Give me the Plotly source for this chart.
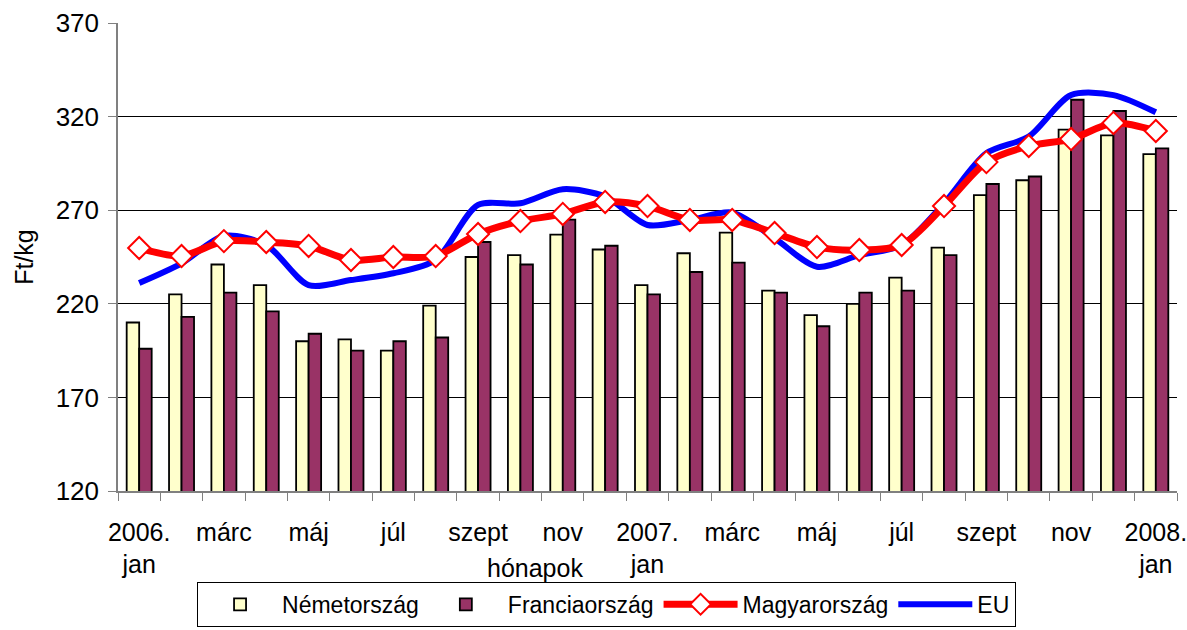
import plotly.graph_objects as go

months = ["2006. jan", "feb", "márc", "ápr", "máj", "jún", "júl", "aug", "szept", "okt", "nov", "dec",
          "2007. jan", "feb", "márc", "ápr", "máj", "jún", "júl", "aug", "szept", "okt", "nov", "dec",
          "2008. jan"]
tick_labels = ["2006.<br>jan", "márc", "máj", "júl", "szept", "nov", "2007.<br>jan",
               "márc", "máj", "júl", "szept", "nov", "2008.<br>jan"]

nemetorszag = [210, 225, 241, 230, 200, 201, 195, 219, 245, 246, 257, 249,
               230, 247, 258, 227, 214, 220, 234, 250, 278, 286, 313, 310, 300]
franciaorszag = [196, 213, 226, 216, 204, 195, 200, 202, 253, 241, 265, 251,
                 225, 237, 242, 226, 208, 226, 227, 246, 284, 288, 329, 323, 303]
magyarorszag = [249.8, 245.5, 253.5, 253, 250.9, 243.4, 245, 245.5, 257.3, 264.2, 268, 274.4,
                272.2, 264.8, 264.8, 257.8, 250.3, 248.7, 251.4, 272.2, 295.7, 304.3, 308, 316.6, 312.3]
eu = [231.1, 241.6, 256.2, 251.4, 230, 232.7, 236.3, 243.4, 272.8, 273.7, 281.2, 277.3,
      262.1, 264.8, 268.7, 255, 239.8, 246, 251.4, 273.7, 300.4, 309.3, 331.5, 331.5, 322.3]

x = list(range(len(months)))
FONT = "Liberation Sans, Arial, sans-serif"

fig = go.Figure()
fig.add_trace(go.Bar(x=x, y=nemetorszag, name="Németország", legendrank=1,
                     marker=dict(color="#FFFFCC", line=dict(color="black", width=1.8)),
                     customdata=months, hovertemplate="%{customdata}: %{y}<extra></extra>"))
fig.add_trace(go.Bar(x=x, y=franciaorszag, name="Franciaország", legendrank=2,
                     marker=dict(color="#993366", line=dict(color="black", width=1.8)),
                     customdata=months, hovertemplate="%{customdata}: %{y}<extra></extra>"))
fig.add_trace(go.Scatter(x=x, y=eu, name="EU", mode="lines", legendrank=4,
                         line=dict(color="#0000FF", width=6, shape="spline", smoothing=0.8)))
fig.add_trace(go.Scatter(x=x, y=magyarorszag, name="Magyarország", mode="lines+markers", legendrank=3,
                         line=dict(color="#FF0000", width=7, shape="spline", smoothing=0.8),
                         marker=dict(symbol="diamond", size=17, color="white",
                                     line=dict(color="#FF0000", width=2))))

plot_l, plot_r, plot_t, plot_b = 118, 10, 23, 139
plot_w = 1187 - plot_l - plot_r
plot_h = 630 - plot_t - plot_b

fig.update_layout(
    width=1187, height=630,
    margin=dict(l=plot_l, r=plot_r, t=plot_t, b=plot_b, autoexpand=False),
    paper_bgcolor="white", plot_bgcolor="white",
    font=dict(family=FONT, size=25, color="black"),
    barmode="group", bargap=0.41, bargroupgap=0,
    showlegend=True,
    legend=dict(orientation="h", xref="container", yref="container",
                x=0.511, xanchor="center", y=0.005, yanchor="bottom",
                bordercolor="black", borderwidth=1, bgcolor="white",
                font=dict(size=23, family=FONT), itemwidth=74, tracegroupgap=0),
    xaxis=dict(range=[-0.5, 24.5], tickmode="array", tickvals=list(range(0, 25, 2)),
               ticktext=tick_labels, ticks="", showgrid=False, zeroline=False,
               showline=True, linecolor="#808080", linewidth=1.5, automargin=False,
               tickfont=dict(size=25), ticklabelstandoff=18, ticklabeloverflow="allow",
               minor=dict(tickmode="linear", tick0=0.5, dtick=1, ticks="outside",
                          ticklen=8, tickcolor="#808080", showgrid=False)),
    yaxis=dict(range=[120, 370], dtick=50, tick0=120, showgrid=True, gridcolor="black",
               gridwidth=1, zeroline=False, showline=True, linecolor="#808080", linewidth=1.5,
               ticks="outside", ticklen=8, tickcolor="#808080", automargin=False,
               tickfont=dict(size=26), ticklabelstandoff=4, ticklabeloverflow="allow",
               title=dict(text="Ft/kg", font=dict(size=25), standoff=15)),
    annotations=[dict(text="hónapok", x=(535 - plot_l) / plot_w, y=(630 - plot_b - 568) / plot_h,
                      xref="paper", yref="paper", xanchor="center", yanchor="middle",
                      showarrow=False, font=dict(size=25))],
)

fig.write_html("out.html", config={"displayModeBar": False},
               post_script="document.body.style.margin='0px';")
